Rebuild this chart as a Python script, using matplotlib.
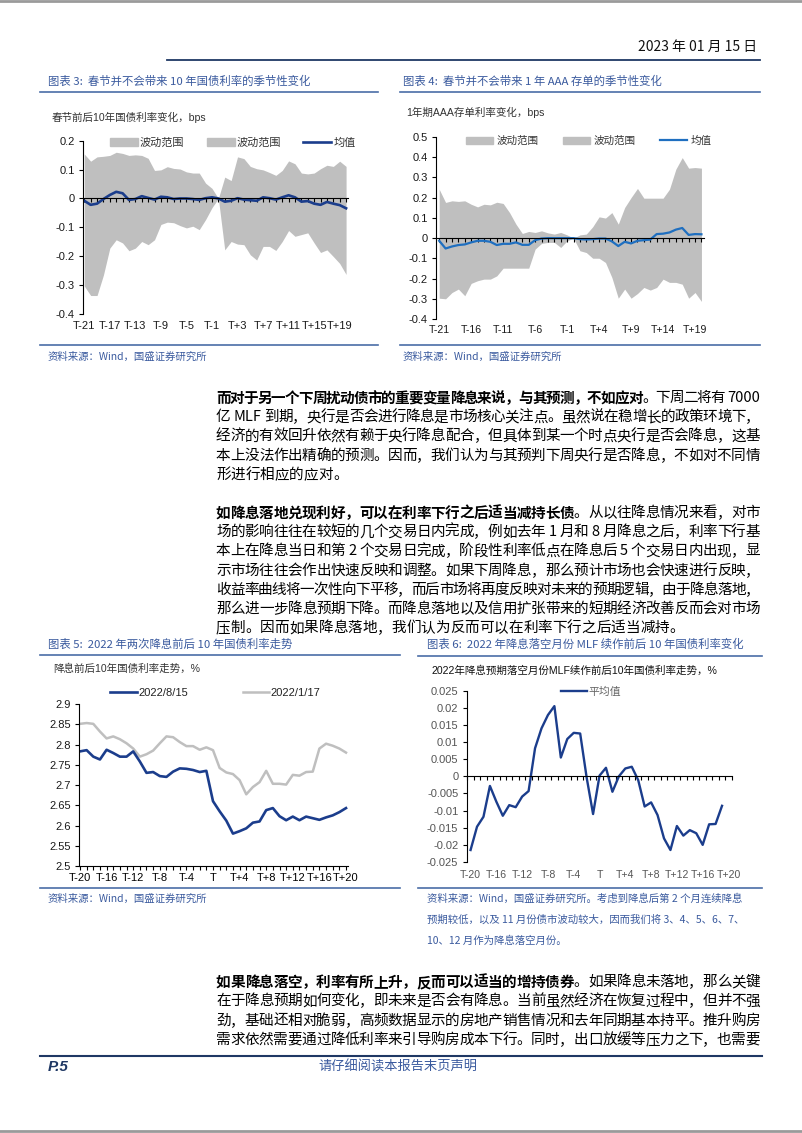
import re
import numpy as np
import matplotlib
matplotlib.use('Agg')
import matplotlib.pyplot as plt
from matplotlib.font_manager import FontProperties
from matplotlib.lines import Line2D
from matplotlib.patches import Patch
from matplotlib.ticker import FuncFormatter

# --- Data: chart 3, 10Y gov bond change around Spring Festival (T-21 .. T+20) ---
c3_upper = [0.154, 0.129, 0.144, 0.146, 0.149, 0.160, 0.156, 0.149, 0.151, 0.149,
            0.139, 0.097, 0.099, 0.110, 0.104, 0.102, 0.092, 0.088, 0.088, 0.053,
            0.035, 0.0,
            0.074, 0.062, 0.144, 0.138, 0.111, 0.103, 0.099, 0.090, 0.080, 0.097,
            0.130, 0.120, 0.088, 0.085, 0.088, 0.103, 0.115, 0.111, 0.129, 0.111]
c3_lower = [-0.303, -0.336, -0.336, -0.265, -0.172, -0.143, -0.154, -0.181, -0.172, -0.149,
            -0.160, -0.143, -0.090, -0.082, -0.084, -0.094, -0.102, -0.096, -0.108, -0.073,
            -0.032, 0.0,
            -0.178, -0.149, -0.158, -0.160, -0.195, -0.213, -0.166, -0.166, -0.180, -0.149,
            -0.111, -0.131, -0.125, -0.119, -0.154, -0.187, -0.178, -0.201, -0.225, -0.263]
c3_mean = [-0.008, -0.022, -0.018, -0.002, 0.012, 0.023, 0.018, -0.005, -0.002, 0.008,
           0.002, -0.004, 0.006, 0.004, -0.002, 0.0, 0.0, -0.002, -0.005, 0.001,
           0.004, 0.0,
           -0.011, -0.008, 0.001, -0.004, -0.006, -0.008, 0.004, 0.001, -0.004, 0.004,
           0.011, 0.004, -0.011, -0.009, -0.018, -0.022, -0.012, -0.018, -0.023, -0.034]
c3_ticklabels = ['T-21', 'T-17', 'T-13', 'T-9', 'T-5', 'T-1', 'T+3', 'T+7', 'T+11', 'T+15', 'T+19']

# --- Data: chart 4, 1Y AAA NCD change around Spring Festival (T-21 .. T+20) ---
c4_upper = [0.241, 0.176, 0.184, 0.181, 0.184, 0.167, 0.154, 0.167, 0.164, 0.177,
            0.171, 0.126, 0.069, 0.023, 0.033, 0.028, 0.036, 0.026, 0.020, 0.028,
            0.016, 0.0,
            0.016, 0.020, 0.056, 0.105, 0.099, 0.126, 0.069, 0.151, 0.200, 0.245,
            0.197, 0.197, 0.197, 0.197, 0.241, 0.340, 0.397, 0.345, 0.348, 0.345]
c4_lower = [-0.296, -0.299, -0.268, -0.251, -0.284, -0.223, -0.210, -0.202, -0.202, -0.186,
            -0.148, -0.148, -0.148, -0.148, -0.148, -0.054, -0.026, -0.021, -0.021, -0.046,
            -0.013, 0.0,
            -0.062, -0.071, -0.099, -0.099, -0.120, -0.194, -0.296, -0.251, -0.296, -0.273,
            -0.243, -0.256, -0.243, -0.202, -0.218, -0.218, -0.227, -0.296, -0.268, -0.312]
c4_mean = [-0.013, -0.051, -0.041, -0.034, -0.031, -0.021, -0.013, -0.013, -0.018, -0.034,
           -0.028, -0.028, -0.021, -0.033, -0.033, -0.010, -0.002, 0.0, 0.0, 0.0,
           0.0, 0.0,
           -0.005, -0.007, -0.005, -0.002, -0.002, -0.016, -0.039, -0.018, -0.026, -0.013,
           -0.010, -0.007, 0.020, 0.022, 0.028, 0.042, 0.050, 0.016, 0.020, 0.019]
c4_ticklabels = ['T-21', 'T-16', 'T-11', 'T-6', 'T-1', 'T+4', 'T+9', 'T+14', 'T+19']

# --- Data: chart 5, 10Y yield around the two 2022 rate cuts (T-20 .. T+20) ---
c5_aug15 = [2.783, 2.786, 2.770, 2.763, 2.787, 2.779, 2.770, 2.770, 2.783, 2.758,
            2.730, 2.732, 2.722, 2.720, 2.733, 2.741, 2.740, 2.737, 2.732, 2.735,
            2.660, 2.635, 2.612, 2.580, 2.586, 2.593, 2.607, 2.610, 2.638, 2.643,
            2.623, 2.613, 2.622, 2.613, 2.622, 2.618, 2.614, 2.620, 2.625, 2.633, 2.643]
c5_jan17 = [2.851, 2.853, 2.851, 2.832, 2.815, 2.820, 2.813, 2.803, 2.790, 2.770,
            2.776, 2.785, 2.803, 2.820, 2.818, 2.806, 2.796, 2.796, 2.787, 2.793,
            2.786, 2.742, 2.731, 2.727, 2.712, 2.677, 2.695, 2.707, 2.735, 2.703,
            2.703, 2.701, 2.725, 2.723, 2.732, 2.733, 2.790, 2.802, 2.797, 2.790, 2.780]
c5_ticklabels = ['T-20', 'T-16', 'T-12', 'T-8', 'T-4', 'T', 'T+4', 'T+8', 'T+12', 'T+16', 'T+20']

# --- Data: chart 6, average 10Y change around MLF in no-cut months (T-20 .. T+19) ---
c6_avg = [-0.0215, -0.0147, -0.0118, -0.0028, -0.0074, -0.0115, -0.0084, -0.0090, -0.0059, -0.0043,
          0.0082, 0.0140, 0.0179, 0.0205, 0.0055, 0.0109, 0.0127, 0.0125, -0.0003, -0.0110,
          0.0002, 0.0025, -0.0045, 0.0000, 0.0023, 0.0028, -0.0011, -0.0088, -0.0076, -0.0113,
          -0.0181, -0.0215, -0.0145, -0.0173, -0.0157, -0.0166, -0.0200, -0.0140, -0.0139, -0.0086]
c6_ticklabels = ['T-20', 'T-16', 'T-12', 'T-8', 'T-4', 'T', 'T+4', 'T+8', 'T+12', 'T+16', 'T+20']

# --- Body text (bold lead, normal rest), one entry per printed line ---
para1 = [
    [('而对于另一个下周扰动债市的重要变量降息来说，与其预测，不如应对', True), ('。下周二将有 7000', False)],
    [('亿 MLF 到期，央行是否会进行降息是市场核心关注点。虽然说在稳增长的政策环境下，', False)],
    [('经济的有效回升依然有赖于央行降息配合，但具体到某一个时点央行是否会降息，这基', False)],
    [('本上没法作出精确的预测。因而，我们认为与其预判下周央行是否降息，不如对不同情', False)],
    [('形进行相应的应对。', False)],
]
para2 = [
    [('如降息落地兑现利好，可以在利率下行之后适当减持长债', True), ('。从以往降息情况来看，对市', False)],
    [('场的影响往往在较短的几个交易日内完成，例如去年 1 月和 8 月降息之后，利率下行基', False)],
    [('本上在降息当日和第 2 个交易日完成，阶段性利率低点在降息后 5 个交易日内出现，显', False)],
    [('示市场往往会作出快速反映和调整。如果下周降息，那么预计市场也会快速进行反映，', False)],
    [('收益率曲线将一次性向下平移，而后市场将再度反映对未来的预期逻辑，由于降息落地，', False)],
    [('那么进一步降息预期下降。而降息落地以及信用扩张带来的短期经济改善反而会对市场', False)],
    [('压制。因而如果降息落地，我们认为反而可以在利率下行之后适当减持。', False)],
]
para3 = [
    [('如果降息落空，利率有所上升，反而可以适当的增持债券', True), ('。如果降息未落地，那么关键', False)],
    [('在于降息预期如何变化，即未来是否会有降息。当前虽然经济在恢复过程中，但并不强', False)],
    [('劲，基础还相对脆弱，高频数据显示的房地产销售情况和去年同期基本持平。推升购房', False)],
    [('需求依然需要通过降低利率来引导购房成本下行。同时，出口放缓等压力之下，也需要', False)],
]

# --- Styling ---
plt.rcParams['font.family'] = ['Liberation Sans', 'Noto Sans CJK SC']
plt.rcParams['axes.unicode_minus'] = False

W, H = 802, 1133
NAVY = '#1B3D8C'
TITLE_BLUE = '#3A5A9E'
RULE_BLUE = '#4A6DA7'
GRAY_BAND = '#BFBFBF'

fig = plt.figure(figsize=(W / 100, H / 100), dpi=100)
fig.patch.set_facecolor('white')


def px_axes(l, t, r, b):
    return fig.add_axes([l / W, 1 - b / H, (r - l) / W, (b - t) / H])


def put(x, y, s, **kw):
    return fig.text(x / W, 1 - y / H, s, **kw)


def hline(x0, x1, y, color, lw):
    fig.add_artist(Line2D([x0 / W, x1 / W], [1 - y / H, 1 - y / H], color=color, lw=lw,
                          transform=fig.transFigure))


def fmt_g(v, pos):
    # Excel-style labels: 0.2, 0.1, 0, -0.1 ... (no "-0")
    return '0' if abs(v) < 1e-9 else f'{round(v, 4):g}'


def base_style(ax, xlim, ylim, yticks, labelcolor='#1a1a1a'):
    ax.set_xlim(*xlim)
    ax.set_ylim(*ylim)
    ax.spines['top'].set_visible(False)
    ax.spines['right'].set_visible(False)
    for s in ('left', 'bottom'):
        ax.spines[s].set_color('black')
        ax.spines[s].set_linewidth(0.8)
    ax.set_yticks(yticks)
    ax.yaxis.set_major_formatter(FuncFormatter(fmt_g))
    ax.tick_params(axis='y', direction='out', length=3, width=0.8, labelsize=8, pad=3,
                   labelcolor=labelcolor)
    ax.set_facecolor('none')


def zero_xaxis(ax, tick_pos, label_pos, labels, fs, pad, labelcolor='#1a1a1a'):
    # x axis line crosses at 0 but the labels sit at the bottom (Excel "low" labels)
    ax.spines['bottom'].set_position(('data', 0))
    ax.set_xticks(tick_pos)
    ax.tick_params(axis='x', direction='out', length=3, width=0.8, labelbottom=False)
    sec = ax.secondary_xaxis('bottom')
    sec.set_xticks(label_pos, labels)
    sec.tick_params(axis='x', length=0, labelsize=fs, pad=pad, labelcolor=labelcolor)
    sec.spines['bottom'].set_visible(False)


# --- Page furniture ---
hline(0, W, 1, '#9a9a9a', 2)
hline(0, W, 1131, '#9a9a9a', 2)
put(757, 47, '2023 年 01 月 15 日', ha='right', va='center', fontsize=10,
    family=['Noto Sans CJK SC'], color='#111111')
hline(167, 760, 60, '#1F3864', 1.3)

title_kw = dict(fontsize=8.2, color=TITLE_BLUE, va='center', ha='left', family=['Noto Sans CJK SC'])
src_kw = dict(fontsize=7.5, color=TITLE_BLUE, va='center', ha='left', family=['Noto Sans CJK SC'])
sub_kw = dict(fontsize=7.6, color='#333333', va='center', ha='left')

# chart frames
put(48, 81, '图表 3:  春节并不会带来 10 年国债利率的季节性变化', **title_kw)
hline(40, 378, 92, RULE_BLUE, 1.2)
put(403, 81, '图表 4:  春节并不会带来 1 年 AAA 存单的季节性变化', **title_kw)
hline(400, 760, 92, RULE_BLUE, 1.2)
hline(40, 378, 345, RULE_BLUE, 1.2)
hline(400, 760, 345, RULE_BLUE, 1.2)
put(48, 357, '资料来源：Wind，国盛证券研究所', **src_kw)
put(403, 357, '资料来源：Wind，国盛证券研究所', **src_kw)

put(48, 644, '图表 5:  2022 年两次降息前后 10 年国债利率走势', **title_kw)
hline(40, 400, 655, RULE_BLUE, 1.2)
put(427, 644, '图表 6:  2022 年降息落空月份 MLF 续作前后 10 年国债利率变化', **title_kw)
hline(418, 762, 656, RULE_BLUE, 1.2)
hline(40, 400, 888, RULE_BLUE, 1.2)
hline(418, 762, 888, RULE_BLUE, 1.2)
put(48, 899, '资料来源：Wind，国盛证券研究所', **src_kw)
put(427, 899, '资料来源：Wind，国盛证券研究所。考虑到降息后第 2 个月连续降息', **src_kw)
put(427, 920, '预期较低，以及 11 月份债市波动较大，因而我们将 3、4、5、6、7、', **src_kw)
put(427, 941, '10、12 月作为降息落空月份。', **src_kw)

put(52, 117, '春节前后10年国债利率变化，bps', **sub_kw)
put(406, 112, '1年期AAA存单利率变化，bps', **sub_kw)
put(53, 669, '降息前后10年国债利率走势，%', **sub_kw)
put(432, 671, '2022年降息预期落空月份MLF续作前后10年国债利率走势，%', fontsize=7.6, color='#111111',
    va='center', ha='left')

# --- Chart 3 ---
ax3 = px_axes(83, 140.7, 348, 314)
x3 = np.arange(len(c3_mean))
mid3 = c3_ticklabels.index('T-1') * 4 + 1          # index of T
ax3.fill_between(x3[:mid3 + 1], c3_lower[:mid3 + 1], c3_upper[:mid3 + 1], color=GRAY_BAND, lw=0)
ax3.fill_between(x3[mid3:], c3_lower[mid3:], c3_upper[mid3:], color=GRAY_BAND, lw=0)
ax3.plot(x3, c3_mean, color=NAVY, lw=1.9, solid_joinstyle='round')
base_style(ax3, (-0.2, 41.3), (-0.4, 0.2), np.arange(-0.4, 0.21, 0.1))
zero_xaxis(ax3, x3, x3[::4], c3_ticklabels, 8, 5)
ax3.legend([Patch(color=GRAY_BAND), Patch(color=GRAY_BAND), Line2D([], [], color=NAVY, lw=1.9)],
           ['波动范围', '波动范围', '均值'], loc='center left', ncol=3, frameon=False,
           bbox_to_anchor=(110 / W, 1 - 143 / H), bbox_transform=fig.transFigure,
           fontsize=8, handlelength=2.5, handleheight=0.75, handletextpad=0.2,
           columnspacing=2.0, borderpad=0, borderaxespad=0, labelcolor='#333333')

# --- Chart 4 ---
ax4 = px_axes(436, 136.7, 704, 319.3)
x4 = np.arange(len(c4_mean))
mid4 = 21
ax4.fill_between(x4[:mid4 + 1], c4_lower[:mid4 + 1], c4_upper[:mid4 + 1], color=GRAY_BAND, lw=0)
ax4.fill_between(x4[mid4:], c4_lower[mid4:], c4_upper[mid4:], color=GRAY_BAND, lw=0)
ax4.plot(x4, c4_mean, color='#1F6FC0', lw=1.6, solid_joinstyle='round')
base_style(ax4, (-0.5, 41.4), (-0.4, 0.5), np.arange(-0.4, 0.51, 0.1))
zero_xaxis(ax4, x4, x4[::5], c4_ticklabels, 7.6, 4)
ax4.legend([Patch(color=GRAY_BAND), Patch(color=GRAY_BAND), Line2D([], [], color='#1F6FC0', lw=1.6)],
           ['波动范围', '波动范围', '均值'], loc='center left', ncol=3, frameon=False,
           bbox_to_anchor=(466 / W, 1 - 141 / H), bbox_transform=fig.transFigure,
           fontsize=7.6, handlelength=2.6, handleheight=0.75, handletextpad=0.3,
           columnspacing=2.3, borderpad=0, borderaxespad=0, labelcolor='#333333')

# --- Chart 5 ---
ax5 = px_axes(79, 704, 348, 866)
x5 = np.arange(len(c5_aug15))
ax5.plot(x5, c5_jan17, color='#BFBFBF', lw=1.8, label='2022/1/17')
ax5.plot(x5, c5_aug15, color=NAVY, lw=1.9, label='2022/8/15')
base_style(ax5, (-0.15, 40.3), (2.5, 2.9), np.arange(2.5, 2.91, 0.05))
ax5.set_xticks(x5, [c5_ticklabels[i // 4] if i % 4 == 0 else '' for i in x5])
ax5.tick_params(axis='x', direction='out', length=3, width=0.8, labelsize=8, pad=2)
h5, l5 = ax5.get_legend_handles_labels()
ax5.legend(h5[::-1], l5[::-1], loc='center left', ncol=2, frameon=False,
           bbox_to_anchor=(110 / W, 1 - 693 / H), bbox_transform=fig.transFigure,
           fontsize=8, handlelength=2.4, handletextpad=0.15, columnspacing=4.9,
           borderpad=0, borderaxespad=0, labelcolor='#222222')

# --- Chart 6 ---
ax6 = px_axes(466.7, 690.7, 731.7, 862)
x6 = np.arange(len(c6_avg))
ax6.plot(x6, c6_avg, color=NAVY, lw=1.7, label='平均值', solid_joinstyle='round')
n6 = len(c6_ticklabels) * 4 - 3                    # categories T-20 .. T+20
base_style(ax6, (-0.6, n6 - 0.5), (-0.025, 0.025), np.arange(-0.025, 0.0251, 0.005),
           labelcolor='#555555')
zero_xaxis(ax6, np.arange(n6 + 1) - 0.5, np.arange(n6)[::4], c6_ticklabels, 7.6, 6,
           labelcolor='#555555')
ax6.legend(loc='center left', frameon=False,
           bbox_to_anchor=(561 / W, 1 - 692 / H), bbox_transform=fig.transFigure,
           fontsize=7.8, handlelength=2.4, handletextpad=0.15, borderpad=0,
           borderaxespad=0, labelcolor='#666666')

# --- Body text, justified per line ---
BODY_X0, BODY_X1 = 216, 760
BODY_SIZE = 10.5
fp_norm = FontProperties(family='Noto Sans CJK SC', size=BODY_SIZE)
fp_bold = FontProperties(family='Noto Sans CJK SC', size=BODY_SIZE, weight='bold')
renderer = fig.canvas.get_renderer()
em = BODY_SIZE * 100 / 72


def body_line(segments, y, justify):
    toks = []
    for s, bold in segments:
        toks += [(t, bold) for t in re.findall(r'[A-Za-z0-9]+|.', s)]
    ws = []
    for t, b in toks:
        if t == ' ':
            ws.append(0.25 * em)
        else:
            ws.append(renderer.get_text_width_height_descent(t, fp_bold if b else fp_norm, ismath=False)[0])
    gap = (BODY_X1 - BODY_X0 - sum(ws)) / (len(toks) - 1) if justify else 0
    x = BODY_X0
    for (t, b), w in zip(toks, ws):
        if t != ' ':
            put(x, y, t, fontproperties=fp_bold if b else fp_norm, va='center', ha='left', color='black')
        x += w + gap


def paragraph(lines, y0, step, last_full=False):
    for k, segs in enumerate(lines):
        body_line(segs, y0 + k * step, justify=(k < len(lines) - 1 or last_full))


paragraph(para1, 398, 19.2)
paragraph(para2, 513, 19.2)
paragraph(para3, 982, 19.3, last_full=True)

# --- Footer ---
hline(40, 762, 1056, '#1F3864', 1.5)
put(48, 1067, 'P.5', fontsize=11, fontweight='bold', style='italic', color='#1F3864',
    va='center', ha='left')
put(398, 1067, '请仔细阅读本报告末页声明', fontsize=9.5, color=TITLE_BLUE, va='center', ha='center',
    family=['Noto Sans CJK SC'])

fig.savefig('out.png', dpi=100)
